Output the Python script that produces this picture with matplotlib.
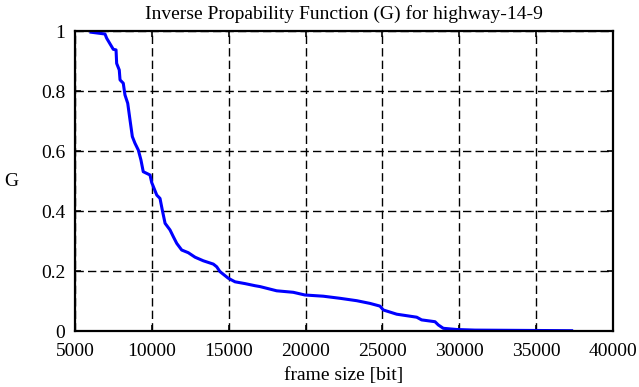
import numpy as np
import matplotlib.pyplot as plt

# inverse probability G(x)
frame_size = [6040, 6950, 7060, 7280, 7490, 7670, 7710, 7880, 7930, 8140,
              8250, 8430, 8580, 8730, 8900, 9120, 9290, 9440, 9880, 9990,
              10320, 10530, 10680, 10860, 11180, 11400, 11620, 11940, 12370,
              12810, 13350, 14000, 14220, 14430, 14970, 15410, 16060, 16710,
              17040, 18120, 19200, 19960, 21150, 22240, 23330, 24190, 24840,
              25060, 25930, 27230, 27550, 28420, 28640, 28960, 29830, 31020,
              37310]
G = [0.996, 0.99, 0.976, 0.957, 0.939, 0.937, 0.892, 0.87, 0.837, 0.826,
     0.787, 0.759, 0.703, 0.648, 0.626, 0.603, 0.57, 0.531, 0.52, 0.495,
     0.453, 0.442, 0.403, 0.359, 0.337, 0.314, 0.292, 0.27, 0.261,
     0.246, 0.234, 0.223, 0.214, 0.198, 0.176, 0.164, 0.158, 0.151,
     0.148, 0.134, 0.129, 0.12, 0.116, 0.109, 0.101, 0.092, 0.083,
     0.07, 0.056, 0.046, 0.037, 0.031, 0.02, 0.009, 0.005, 0.003,
     0.001]

xticks = [5000, 10000, 15000, 20000, 25000, 30000, 35000, 40000]
yticks = [0, 0.2, 0.4, 0.6, 0.8, 1]
ytick_labels = ['0', '0.2', '0.4', '0.6', '0.8', '1']

plt.rcParams['font.family'] = 'Liberation Serif'
plt.rcParams['font.size'] = 14

fig = plt.figure(figsize=(6.39, 3.87), dpi=100)
ax = fig.add_axes([75 / 639, 56 / 387, 538 / 639, 300 / 387])

ax.plot(frame_size, G, color='#0000ff', lw=2.2)

ax.set_xlim(5000, 40000)
ax.set_ylim(0, 1)
ax.set_xticks(xticks)
ax.set_xticklabels([str(t) for t in xticks])
ax.set_yticks(yticks)
ax.set_yticklabels(ytick_labels)
ax.tick_params(direction='in', length=4.5, width=1.2, top=True, right=True)
ax.tick_params(axis='x', pad=9)
ax.tick_params(axis='y', pad=7)
ax.grid(True, color='black', linestyle=(0, (6, 3)), linewidth=1.0)
for s in ax.spines.values():
    s.set_linewidth(1.6)

ax.set_title('Inverse Propability Function (G) for highway-14-9', pad=9, fontsize=14)
ax.set_xlabel('frame size [bit]', labelpad=5)
ax.set_ylabel('G', rotation=0, ha='center', va='center')
ax.yaxis.set_label_coords((11.5 - 75) / 538, 0.5)

fig.savefig('out.png', dpi=100)
